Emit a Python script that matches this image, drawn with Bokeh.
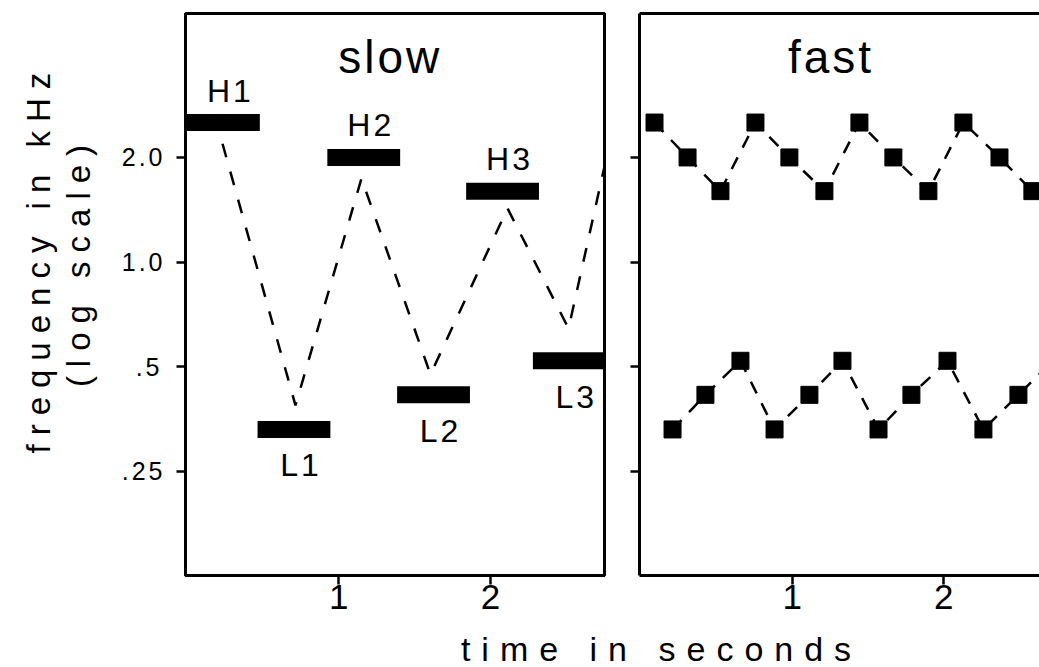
import math
from bokeh.plotting import figure
from bokeh.models import ColumnDataSource, FixedTicker, Label, LinearAxis, Range1d
from bokeh.layouts import row, column
from bokeh.embed import file_html
from bokeh.resources import INLINE
from bokeh.core.properties import value

FONT = "Liberation Sans"

# ---------------- data ----------------
tone_names = ["H1", "L1", "H2", "L2", "H3", "L3"]
tone_freq = [2.52, 0.33, 2.0, 0.415, 1.6, 0.52]          # kHz
slow_onset = [0.0, 0.465, 0.925, 1.385, 1.84, 2.28]      # s
slow_offset = [0.48, 0.945, 1.405, 1.865, 2.32, 2.76]    # s
slow_path_t = [0.234, 0.715, 1.150, 1.605, 2.113, 2.515, 2.785]
slow_path_f = [2.19, 0.387, 1.74, 0.475, 1.427, 0.644, 2.19]

fast_high_t = [0.092, 0.310, 0.527, 0.758, 0.982, 1.213, 1.444, 1.668, 1.899, 2.130, 2.368, 2.585]
fast_high_f = [2.52, 2.0, 1.6, 2.52, 2.0, 1.6, 2.52, 2.0, 1.6, 2.52, 2.0, 1.6]
fast_low_t = [0.211, 0.428, 0.659, 0.884, 1.114, 1.332, 1.570, 1.787, 2.025, 2.262, 2.493, 2.72]
fast_low_f = [0.33, 0.415, 0.52, 0.33, 0.415, 0.52, 0.33, 0.415, 0.52, 0.33, 0.415, 0.52]

y_ticks = [0.25, 0.5, 1.0, 2.0]
y_tick_labels = [".25", ".5", "1.0", "2.0"]
x_ticks = [1, 2]
x_tick_labels = ["1", "2"]

panel_titles = ["slow", "fast"]
y_label_lines = ["frequency in kHz", "(log scale)"]
x_label = "time in seconds"

# ---------------- layout constants ----------------
H = 630
YR = (0.1254, 5.19)


def style_axes(p, show_ylabels=True):
    p.xgrid.visible = False
    p.ygrid.visible = False
    for ax in p.xaxis + p.yaxis:
        ax.axis_line_width = 3
        ax.axis_line_color = "black"
        ax.major_tick_line_width = 2.5
        ax.major_tick_line_color = "black"
        ax.major_tick_out = 9
        ax.major_tick_in = 0
        ax.minor_tick_line_color = None
        ax.major_label_text_font = FONT
        ax.major_label_text_color = "black"
    p.xaxis.ticker = FixedTicker(ticks=x_ticks)
    p.xaxis.major_label_overrides = dict(zip(x_ticks, x_tick_labels))
    p.xaxis.major_label_text_font_size = "35px"
    p.xaxis.major_label_standoff = 0
    p.yaxis.ticker = FixedTicker(ticks=y_ticks)
    if show_ylabels:
        p.yaxis.major_label_overrides = dict(zip(y_ticks, y_tick_labels))
        p.yaxis.major_label_text_font_size = "25px"
        p.yaxis.major_label_standoff = 20
    else:
        p.yaxis.major_label_overrides = {t: "" for t in y_ticks}
        p.yaxis.major_label_text_font_size = "0px"
        p.yaxis.major_label_standoff = 0


# ---------------- y label panel ----------------
pl = figure(width=108, height=H, x_range=Range1d(0, 108), y_range=Range1d(H, 0),
            output_backend="svg", toolbar_location=None,
            x_axis_location=None, y_axis_location=None, min_border=0)
pl.outline_line_color = None
pl.xgrid.visible = False
pl.ygrid.visible = False
pl.stylesheets = [":host { letter-spacing: 9px; }"]
for xb, yc, txt in zip([38, 78], [355.5, 333.5], y_label_lines):
    pl.add_layout(Label(x=xb, y=yc, text=txt, angle=math.pi / 2,
                        text_align="center", text_baseline="alphabetic",
                        text_font=FONT, text_font_size="33px", text_color="black"))

# ---------------- slow panel ----------------
p1 = figure(width=513, height=H, x_range=Range1d(-0.01, 2.752), y_range=Range1d(*YR),
            y_axis_type="log", output_backend="svg", toolbar_location=None,
            min_border_left=77, min_border_right=17, min_border_top=13, min_border_bottom=55)
p1.outline_line_color = "black"
p1.outline_line_width = 3
style_axes(p1)
p1.stylesheets = [":host { letter-spacing: 3px; }"]

p1.line(slow_path_t, slow_path_f, line_color="black", line_width=2.5, line_dash="14 15")
p1.segment(x0=slow_onset, y0=tone_freq, x1=slow_offset, y1=tone_freq,
           line_color="black", line_width=17, line_cap="butt")

mid = [(a + b) / 2 for a, b in zip(slow_onset, slow_offset)]
hi = ColumnDataSource(dict(x=mid[0::2], y=tone_freq[0::2], t=tone_names[0::2]))
lo = ColumnDataSource(dict(x=mid[1::2], y=tone_freq[1::2], t=tone_names[1::2]))
p1.text(x="x", y="y", text="t", source=hi, text_font=value(FONT), text_font_size="32px",
        text_align="center", text_baseline="alphabetic", y_offset=-32, x_offset=4,
        text_color="black")
p1.text(x="x", y="y", text="t", source=lo, text_font=value(FONT), text_font_size="32px",
        text_align="center", text_baseline="alphabetic", y_offset=36, x_offset=4,
        text_color="black")
p1.add_layout(Label(x=1.30, y=3.89, text=panel_titles[0], text_align="center",
                    text_baseline="alphabetic", text_font=FONT, text_font_size="46px",
                    text_color="black"))

# ---------------- fast panel ----------------
p2 = figure(width=418, height=H, x_range=Range1d(-0.007, 2.632), y_range=Range1d(*YR),
            y_axis_type="log", output_backend="svg", toolbar_location=None,
            min_border_left=18, min_border_right=0, min_border_top=13, min_border_bottom=55)
p2.outline_line_color = None
style_axes(p2, show_ylabels=False)
p2.stylesheets = [":host { letter-spacing: 3px; }"]
top_axis = LinearAxis(ticker=FixedTicker(ticks=[]), axis_line_width=3, axis_line_color="black",
                      major_tick_out=0, major_tick_in=0, minor_tick_line_color=None,
                      major_label_text_font_size="0px", major_label_standoff=0)
p2.add_layout(top_axis, "above")

p2.line(fast_high_t, fast_high_f, line_color="black", line_width=2.5, line_dash="13 11")
p2.line(fast_low_t, fast_low_f, line_color="black", line_width=2.5, line_dash="13 11")
p2.scatter(fast_high_t, fast_high_f, marker="square", size=17, color="black")
p2.scatter(fast_low_t, fast_low_f, marker="square", size=17, color="black")
p2.add_layout(Label(x=1.217, y=3.89, text=panel_titles[1], text_align="center",
                    text_baseline="alphabetic", text_font=FONT, text_font_size="46px",
                    text_color="black"))

# ---------------- x label strip ----------------
p3 = figure(width=1039, height=37, x_range=Range1d(0, 1039), y_range=Range1d(37, 0),
            output_backend="svg", toolbar_location=None,
            x_axis_location=None, y_axis_location=None, min_border=0)
p3.outline_line_color = None
p3.xgrid.visible = False
p3.ygrid.visible = False
p3.stylesheets = [":host { letter-spacing: 11px; }"]
p3.add_layout(Label(x=578.5, y=18, text=x_label, text_align="center", text_baseline="alphabetic",
                    text_font=FONT, text_font_size="34px", text_color="black"))

layout = column(row(pl, p1, p2), p3)
open("out.html", "w").write(file_html(layout, INLINE))
